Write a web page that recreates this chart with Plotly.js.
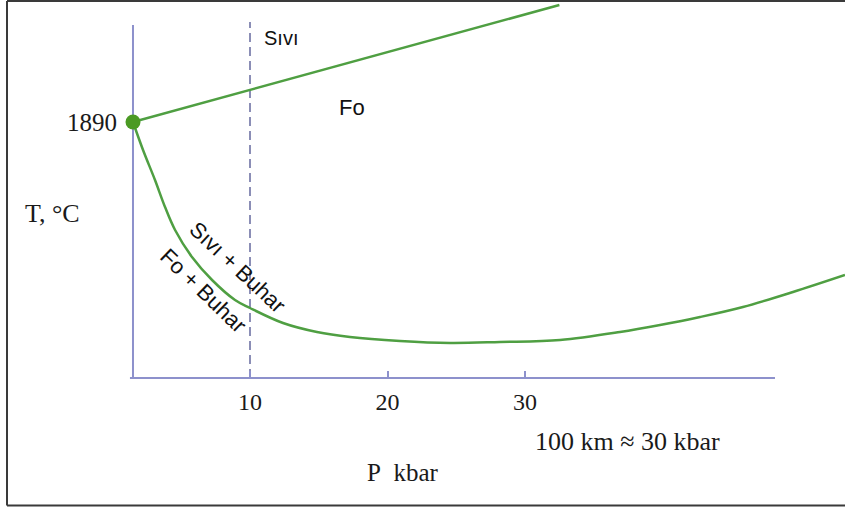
<!DOCTYPE html>
<html>
<head>
<meta charset="utf-8">
<script src="https://cdn.plot.ly/plotly-3.0.1.min.js"></script>
<style>
  html, body { margin: 0; padding: 0; background: #ffffff; }
  #chart { width: 845px; height: 509px; }
</style>
</head>
<body>
<div id="chart"></div>
<script>
// ---- Data ----
// Dry melting curve of forsterite (Fo -> Sıvı), P in kbar, T in °C
const dryPressure = [1.49, 32.5];
const dryTemp = [1890, 2124];

// Wet (H2O-saturated) solidus: Fo + Buhar / Sıvı + Buhar
const wetPressure = [1.49, 2.22, 3.09, 3.82, 4.55, 5.78, 7.24, 8.91, 10.0, 12.4, 14.87, 17.27, 20.91, 24.55, 28.18, 32.55, 36.91, 39.82, 42.73, 45.85, 49.49, 53.27];
const wetTemp     = [1890, 1834, 1774, 1720, 1674, 1620, 1574, 1534, 1518, 1488, 1470, 1460, 1452, 1448, 1450, 1454, 1470, 1484, 1500, 1520, 1550, 1584];

// Melting point at 1 atm
const meltPressure = [1.49];
const meltTemp = [1890];

// Tick labels
const xTickVals = [10, 20, 30];
const xTickText = ['10', '20', '30'];
const yTickVals = [1890];
const yTickText = ['1890'];

// Reference dashed line (10 kbar)
const refPressure = 10;

// Axis extents (drawn axis lines)
const axisPStart = 1.27, axisPEnd = 48.18;
const axisTStart = 1378, axisTEnd = 2084;
const refTEnd = 2090;

// ---- Styles ----
const green = '#4f9f42';
const axisColor = '#8d91cc';
const dashColor = '#8b8eb6';
const serif = '"Liberation Serif", "Times New Roman", serif';
const sans = '"Liberation Sans", Arial, sans-serif';

const traces = [
  { x: dryPressure, y: dryTemp, mode: 'lines', line: { color: green, width: 2.5 }, hoverinfo: 'skip' },
  { x: wetPressure, y: wetTemp, mode: 'lines', line: { color: green, width: 2.5, shape: 'spline', smoothing: 1 }, hoverinfo: 'skip' },
  { x: meltPressure, y: meltTemp, mode: 'markers', marker: { color: '#4b9a24', size: 15 }, cliponaxis: false, hoverinfo: 'skip' }
];

const layout = {
  width: 845, height: 509,
  margin: { l: 0, r: 0, t: 0, b: 0 },
  paper_bgcolor: '#ffffff', plot_bgcolor: '#ffffff',
  showlegend: false,
  xaxis: {
    domain: [120 / 845, 1],
    range: [10 - 130 / 13.75, 10 + 595 / 13.75],
    anchor: 'free', position: (509 - 378) / 509,
    showgrid: false, zeroline: false, showline: false,
    tickmode: 'array', tickvals: xTickVals, ticktext: xTickText,
    ticks: 'inside', ticklen: 7, tickwidth: 2, tickcolor: axisColor,
    ticklabelstandoff: 7,
    tickfont: { family: serif, size: 24, color: '#1a1a1a' }
  },
  yaxis: {
    domain: [(509 - 400) / 509, 1],
    range: [1334, 2134],
    anchor: 'free', position: 133 / 845,
    showgrid: false, zeroline: false, showline: false,
    tickmode: 'array', tickvals: yTickVals, ticktext: yTickText,
    ticks: '', ticklabelstandoff: 16,
    tickfont: { family: serif, size: 25, color: '#1a1a1a' }
  },
  shapes: [
    // axis lines
    { type: 'line', xref: 'x', yref: 'y', x0: axisPStart, x1: axisPEnd, y0: axisTStart, y1: axisTStart, line: { color: axisColor, width: 2 }, layer: 'below' },
    { type: 'line', xref: 'x', yref: 'y', x0: meltPressure[0], x1: meltPressure[0], y0: axisTStart, y1: axisTEnd, line: { color: axisColor, width: 2 }, layer: 'below' },
    // dashed reference line at 10 kbar
    { type: 'line', xref: 'x', yref: 'y', x0: refPressure, x1: refPressure, y0: axisTStart, y1: refTEnd, line: { color: dashColor, width: 2, dash: '9px,5px' }, layer: 'below' },
    // outer frame
    { type: 'line', xref: 'paper', yref: 'paper', x0: 7 / 845, x1: 1, y0: 1 - 1 / 509, y1: 1 - 1 / 509, line: { color: '#3a3a3a', width: 2 } },
    { type: 'line', xref: 'paper', yref: 'paper', x0: 7 / 845, x1: 7 / 845, y0: 1 - 505.5 / 509, y1: 1 - 1 / 509, line: { color: '#3a3a3a', width: 2 } },
    { type: 'line', xref: 'paper', yref: 'paper', x0: 7 / 845, x1: 1, y0: 1 - 505.5 / 509, y1: 1 - 505.5 / 509, line: { color: '#3a3a3a', width: 2 } }
  ],
  annotations: [
    { xref: 'x', yref: 'y', x: 12.25, y: 2058, xanchor: 'center', yanchor: 'middle', text: 'Sıvı', showarrow: false, font: { family: sans, size: 20, color: '#111' } },
    { xref: 'x', yref: 'y', x: 17.42, y: 1920, xanchor: 'center', yanchor: 'middle', text: 'Fo', showarrow: false, font: { family: sans, size: 22, color: '#111' } },
    { xref: 'x', yref: 'y', x: 9.13, y: 1600, xanchor: 'center', yanchor: 'middle', text: 'Sıvı + Buhar', textangle: 43, showarrow: false, font: { family: sans, size: 22, color: '#111' } },
    { xref: 'x', yref: 'y', x: 6.6, y: 1554, xanchor: 'center', yanchor: 'middle', text: 'Fo + Buhar', textangle: 44, showarrow: false, font: { family: sans, size: 22, color: '#111' } },
    { xref: 'paper', yref: 'paper', x: 52 / 845, y: 1 - 213 / 509, xanchor: 'center', yanchor: 'middle', text: 'T, °C', showarrow: false, font: { family: serif, size: 26, color: '#1a1a1a' } },
    { xref: 'paper', yref: 'paper', x: 403 / 845, y: 1 - 472 / 509, xanchor: 'center', yanchor: 'middle', text: 'P&nbsp;&nbsp;kbar', showarrow: false, font: { family: serif, size: 25, color: '#1a1a1a' } },
    { xref: 'paper', yref: 'paper', x: 627 / 845, y: 1 - 441 / 509, xanchor: 'center', yanchor: 'middle', text: '100 km ≈ 30 kbar', showarrow: false, font: { family: serif, size: 26, color: '#1a1a1a' } }
  ]
};

Plotly.newPlot('chart', traces, layout, { staticPlot: true, displayModeBar: false });
</script>
</body>
</html>
